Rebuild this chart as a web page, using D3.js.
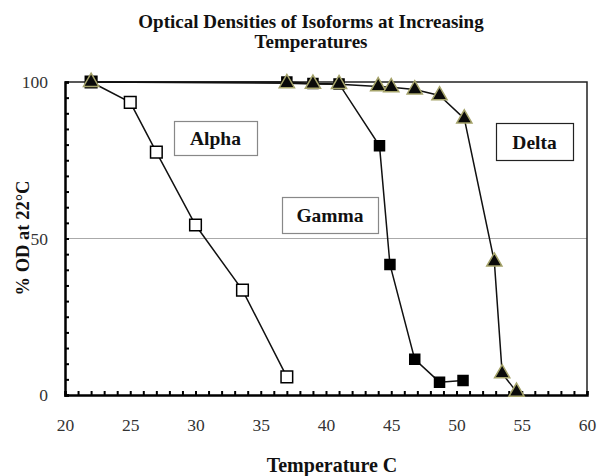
<!DOCTYPE html>
<html><head><meta charset="utf-8">
<script src="https://cdn.jsdelivr.net/npm/d3@7"></script>
<style>body{margin:0;background:#fff}svg{display:block}</style>
</head><body>
<svg id="c" width="601" height="476"></svg>
<script>
const titleLines = ["Optical Densities of Isoforms at Increasing", "Temperatures"];
const xLabel = "Temperature C";
const yLabel = "% OD at 22°C";
const xTicks = [20, 25, 30, 35, 40, 45, 50, 55, 60];
const yTicks = [0, 50, 100];

const alphaTemp = [22, 25, 27, 30, 33.6, 37];
const alphaOD   = [100, 93.5, 77.6, 54.3, 33.5, 5.8];
const gammaTemp = [22, 37, 39, 41, 44.1, 44.9, 46.8, 48.7, 50.5];
const gammaOD   = [100, 100, 99.5, 99.4, 79.6, 41.7, 11.4, 4.1, 4.6];
const deltaTemp = [22, 37, 39, 41, 44, 45, 46.8, 48.7, 50.6, 52.9, 53.5, 54.6];
const deltaOD   = [100, 99.6, 99.4, 99.3, 98.6, 98.3, 97.6, 95.7, 88.3, 42.6, 6.9, 1];

const labelNames = ["Alpha", "Gamma", "Delta"];

const svg = d3.select("#c");
const L = 65, R = 587, T = 82, B = 395;
const x = d3.scaleLinear().domain([20, 60]).range([L, R]);
const y = d3.scaleLinear().domain([0, 100]).range([B, T]);
const serif = "'Liberation Serif','Times New Roman',serif";

// title
svg.append("g").selectAll("text").data(titleLines).join("text")
  .attr("x", 311).attr("y", (d, i) => 28 + i * 20)
  .attr("text-anchor", "middle").attr("font-family", serif)
  .attr("font-weight", "bold").attr("font-size", 19).attr("fill", "#111").text(d => d);

// gridline at 50
svg.append("line").attr("x1", L).attr("x2", R).attr("y1", y(50)).attr("y2", y(50))
  .attr("stroke", "#aaa").attr("stroke-width", 1);

// frame top/right
svg.append("path").attr("d", `M${L},${T}H${R}V${B}`).attr("fill", "none")
  .attr("stroke", "#222").attr("stroke-width", 1.5);

// x axis
const gx = svg.append("g").attr("transform", `translate(0,${B})`);
gx.call(d3.axisBottom(x).tickValues(d3.range(20, 61, 1)).tickSize(-4).tickFormat(""))
  .call(g => g.select(".domain").attr("stroke", "#000").attr("stroke-width", 2.5))
  .call(g => g.selectAll(".tick line").attr("stroke", "#000").attr("stroke-width", 2));
gx.append("g").call(d3.axisBottom(x).tickValues(xTicks).tickSize(0).tickPadding(24))
  .call(g => g.select(".domain").remove())
  .call(g => g.selectAll("text").attr("font-family", serif).attr("font-size", 17.5).attr("fill", "#333"));

// y axis
const gy = svg.append("g").attr("transform", `translate(${L},0)`);
gy.call(d3.axisLeft(y).tickValues(d3.range(0, 101, 5)).tickSize(-4).tickFormat(""))
  .call(g => g.select(".domain").attr("stroke", "#000").attr("stroke-width", 2.5))
  .call(g => g.selectAll(".tick line").attr("stroke", "#000").attr("stroke-width", 2));
gy.append("g").call(d3.axisLeft(y).tickValues(yTicks).tickSize(0).tickPadding(17))
  .call(g => g.select(".domain").remove())
  .call(g => g.selectAll("text").attr("font-family", serif).attr("font-size", 17.5).attr("fill", "#333"));

// axis titles
svg.append("text").attr("x", 332).attr("y", 472).attr("text-anchor", "middle")
  .attr("font-family", serif).attr("font-weight", "bold").attr("font-size", 20).attr("fill", "#111").text(xLabel);
svg.append("text").attr("transform", `translate(29,238) rotate(-90)`).attr("text-anchor", "middle")
  .attr("font-family", serif).attr("font-weight", "bold").attr("font-size", 18.5).attr("fill", "#111").text(yLabel);

const line = d3.line().x(d => x(d[0])).y(d => y(d[1]));
const zip = (a, b) => a.map((v, i) => [v, b[i]]);
const series = [
  {pts: zip(alphaTemp, alphaOD), sym: d3.symbolSquare, size: 135, fill: "#fff", stroke: "#000"},
  {pts: zip(gammaTemp, gammaOD), sym: d3.symbolSquare, size: 100, fill: "#000", stroke: "#000"},
  {pts: zip(deltaTemp, deltaOD), sym: d3.symbolTriangle, size: 100, fill: "#0a0a0a", stroke: "#a5a36a"}
];
series.forEach(s => {
  svg.append("path").datum(s.pts).attr("d", line).attr("fill", "none")
    .attr("stroke", "#111").attr("stroke-width", 1.5);
});
series.forEach(s => {
  svg.append("g").selectAll("path").data(s.pts).join("path")
    .attr("transform", d => `translate(${x(d[0])},${y(d[1])})`)
    .attr("d", d3.symbol().type(s.sym).size(s.size))
    .attr("fill", s.fill).attr("stroke", s.stroke).attr("stroke-width", 1.5);
});

// labels with boxes
const boxes = [
  {name: labelNames[0], x0: 174, x1: 257, y0: 121, y1: 155, stroke: "#888"},
  {name: labelNames[1], x0: 282, x1: 378, y0: 197, y1: 233, stroke: "#888"},
  {name: labelNames[2], x0: 496, x1: 573, y0: 123, y1: 160, stroke: "#222"}
];
const gb = svg.append("g").selectAll("g").data(boxes).join("g");
gb.append("rect").attr("x", d => d.x0 + 0.5).attr("y", d => d.y0 + 0.5)
  .attr("width", d => d.x1 - d.x0).attr("height", d => d.y1 - d.y0)
  .attr("fill", "#fff").attr("stroke", d => d.stroke).attr("stroke-width", 1.2);
gb.append("text").attr("x", d => (d.x0 + d.x1) / 2).attr("y", d => (d.y0 + d.y1) / 2 + 7)
  .attr("text-anchor", "middle").attr("font-family", serif).attr("font-weight", "bold")
  .attr("font-size", 19.5).attr("fill", "#111").text(d => d.name);
</script>
</body></html>
